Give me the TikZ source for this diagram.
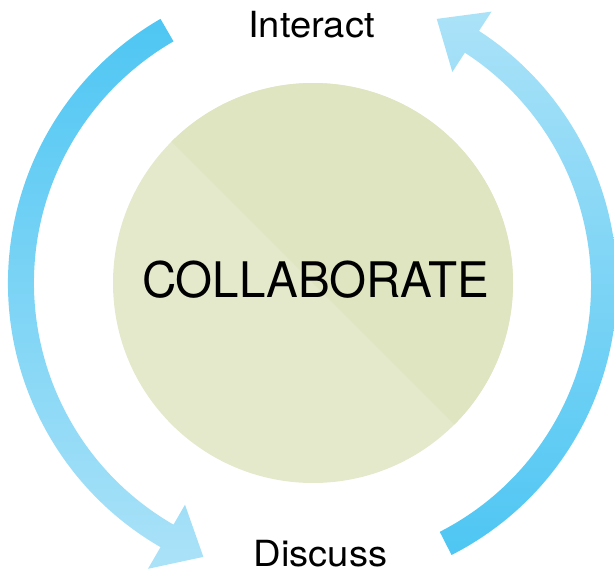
\documentclass[tikz,border=0pt]{standalone}
\usepackage{fontspec}
\setmainfont{TeX Gyre Heros}
\usetikzlibrary{calc}
\definecolor{discLight}{HTML}{E5E9CC}
\definecolor{discDark}{HTML}{DFE5C0}
\definecolor{blueDeep}{HTML}{4EC6F3}
\definecolor{bluePale}{HTML}{ABE2F8}
\tikzset{
  label text/.style={inner sep=0pt, anchor=base, xscale=1.06, transform shape, font=\fontsize{36}{40}\selectfont},
  main text/.style={inner sep=0pt, anchor=base, xscale=0.97, transform shape, font=\fontsize{49}{54}\selectfont},
}
\begin{document}
\begin{tikzpicture}[x=1pt,y=1pt]
\useasboundingbox (0,-573) rectangle (614,0);
\coordinate (C) at (313,-283);
% disc
\fill[discLight] (C) circle[radius=200pt];
\fill[discDark] ($(C)+(135:200pt)$) arc[start angle=135,end angle=-45,radius=200pt] -- cycle;
% left arrow
\begin{scope}[shift={(313,-283)}]
\shade[top color=blueDeep, bottom color=bluePale]
  (120:305pt) arc[start angle=120,end angle=240,radius=305pt]
  -- (240:330pt) -- ($(240:292pt)+(330:42pt)$) -- (240:256pt) -- (240:279pt)
  arc[start angle=240,end angle=120,radius=279pt] -- cycle;
\end{scope}
% right arrow
\begin{scope}[shift={(314,-285)}]
\shade[top color=bluePale, bottom color=blueDeep]
  (-63:303pt) arc[start angle=-63,end angle=57,radius=303pt]
  -- (57:326pt) -- ($(57:290pt)+(147:42pt)$) -- (57:254pt) -- (57:277pt)
  arc[start angle=57,end angle=-63,radius=277pt] -- cycle;
\end{scope}
% texts
\node[label text] (interact) at (311.5,-37.3) {Interact};
\node[label text] (discuss) at (320.5,-566.7) {Discuss};
\node[main text] (collab) at (315.4,-297.3) {COLLABORATE};
\end{tikzpicture}
\end{document}
